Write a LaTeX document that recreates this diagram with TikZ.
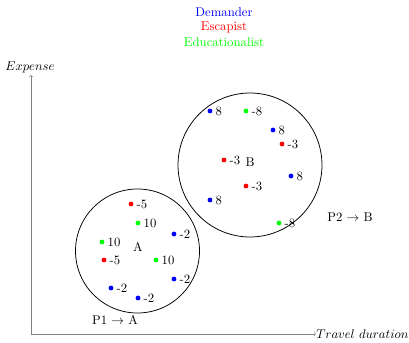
\documentclass[tikz,border=0pt]{standalone}
\usepackage{amsmath,amssymb}
\usepackage{xcolor}
\usepackage{tikz}

\begin{document}
\begin{tikzpicture}[
    x=0.787pt, y=-0.787pt,
    axis/.style={->,gray},
    zone/.style={circle, draw, semithick, inner sep=0pt},
    lbl/.style={inner sep=1pt, label distance=1.2pt},
    demdot/.style={circle, fill=blue, inner sep=0pt, minimum size=3.8pt},
    escdot/.style={circle, fill=red, inner sep=0pt, minimum size=3.8pt},
    edudot/.style={circle, fill=green, inner sep=0pt, minimum size=3.8pt}
]
    \useasboundingbox (0,0) rectangle (409,343);

    % legend
    \node[text=blue] (dem) at (224,12) {Demander};
    \node[text=red] (esc) at (224,27) {Escapist};
    \node[text=green] (edu) at (224,42) {Educationalist};

    % axes
    \coordinate (origin) at (31,334);
    \coordinate (ytop) at (31,75);
    \coordinate (xend) at (316,334);
    \draw[axis] (origin) -- (ytop);
    \draw[axis] (origin) -- (xend);
    \node (ylab) at (30,67) {$Expense$};
    \node[anchor=west, inner sep=0pt] (xlab) at (316,334) {$Travel\ duration$};

    % zones
    \node[zone, minimum size=97.6pt] (zoneA) at (137.5,251) {};
    \node[zone, minimum size=113.3pt] (zoneB) at (250,165) {};
    \node (nameA) at (138,247) {A};
    \node (nameB) at (250,162) {B};
    \node (pathA) at (115,320) {P1 $\rightarrow$ A};
    \node (pathB) at (350,217) {P2 $\rightarrow$ B};

    % people in A
    \node[escdot, label={[lbl]right:-5}] (a1) at (131,204) {};
    \node[edudot, label={[lbl]right:10}] (a2) at (138,223) {};
    \node[demdot, label={[lbl]right:-2}] (a3) at (174,234) {};
    \node[edudot, label={[lbl]right:10}] (a4) at (102,242) {};
    \node[escdot, label={[lbl]right:-5}] (a5) at (104,260) {};
    \node[edudot, label={[lbl]right:10}] (a6) at (156,260) {};
    \node[demdot, label={[lbl]right:-2}] (a7) at (174,279) {};
    \node[demdot, label={[lbl]right:-2}] (a8) at (111,288) {};
    \node[demdot, label={[lbl]right:-2}] (a9) at (138,298) {};

    % people in B
    \node[demdot, label={[lbl]right:8}] (b1) at (210,111) {};
    \node[edudot, label={[lbl]right:-8}] (b2) at (246,111) {};
    \node[demdot, label={[lbl]right:8}] (b3) at (273,130) {};
    \node[escdot, label={[lbl]right:-3}] (b4) at (282,144) {};
    \node[escdot, label={[lbl]right:-3}] (b5) at (224,160) {};
    \node[demdot, label={[lbl]right:8}] (b6) at (291,176) {};
    \node[escdot, label={[lbl]right:-3}] (b7) at (246,186) {};
    \node[demdot, label={[lbl]right:8}] (b8) at (210,200) {};
    \node[edudot, label={[lbl]right:-8}] (b9) at (279,223) {};
\end{tikzpicture}
\end{document}
